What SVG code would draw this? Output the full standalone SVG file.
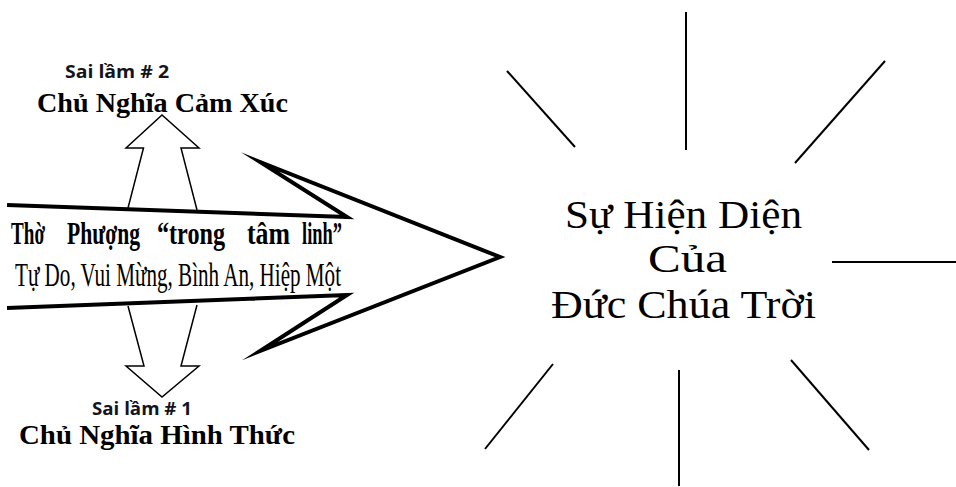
<svg xmlns="http://www.w3.org/2000/svg" width="956" height="487" viewBox="0 0 956 487">
<style>
.thick{fill:none;stroke:#000;stroke-width:4;stroke-linejoin:miter;stroke-miterlimit:30}
.thin{fill:none;stroke:#000;stroke-width:1.5;stroke-linejoin:miter;stroke-miterlimit:10}
.ray{stroke:#000;stroke-width:2;fill:none}
.sai{font-family:"Open Sans","Liberation Sans",sans-serif;font-weight:bold;font-size:17px;fill:#141420}
.head{font-family:"Liberation Serif",serif;font-weight:bold;font-size:28px;fill:#000}
.inb{font-family:"Liberation Serif",serif;font-weight:bold;font-size:32px;fill:#000}
.inr{font-family:"Liberation Serif",serif;font-size:33px;fill:#000}
.big{font-family:"Liberation Serif",serif;font-size:41px;fill:#000}
</style>
<rect width="956" height="487" fill="#fff"/>
<g id="connectors">
<path class="thick" d="M7,205 L347,217 L260,162 L500,257 L260,351 L347,295 L7,308"/>
<path class="thin" d="M128,208 L143.5,148 L126,148 L162,115 L199,148 L181,148 L197,210"/>
<path class="thin" d="M128,306 L144,366 L126,366 L162,397 L199,366 L181,366 L197,305"/>
</g>
<g id="arrow-text">
<text class="inb" x="11" y="244" textLength="34" lengthAdjust="spacingAndGlyphs">Thờ</text>
<text class="inb" x="67" y="244" textLength="73" lengthAdjust="spacingAndGlyphs">Phượng</text>
<text class="inb" x="157" y="244" textLength="68" lengthAdjust="spacingAndGlyphs">“trong</text>
<text class="inb" x="247" y="244" textLength="43" lengthAdjust="spacingAndGlyphs">tâm</text>
<text class="inb" x="302" y="244" textLength="40" lengthAdjust="spacingAndGlyphs">linh”</text>
<text class="inr" x="15" y="286" textLength="326" lengthAdjust="spacingAndGlyphs">Tự Do, Vui Mừng, Bình An, Hiệp Một</text>
</g>
<g id="error2">
<text class="sai" x="65" y="78" textLength="104" lengthAdjust="spacingAndGlyphs">Sai lầm # 2</text>
<text class="head" x="37" y="112" textLength="251" lengthAdjust="spacingAndGlyphs">Chủ Nghĩa Cảm Xúc</text>
</g>
<g id="error1">
<text class="sai" x="92" y="415" textLength="100" lengthAdjust="spacingAndGlyphs">Sai lầm # 1</text>
<text class="head" x="19" y="444" textLength="276" lengthAdjust="spacingAndGlyphs">Chủ Nghĩa Hình Thức</text>
</g>
<g id="presence">
<line class="ray" x1="686" y1="12" x2="686" y2="150"/>
<line class="ray" x1="507" y1="71" x2="575" y2="147"/>
<line class="ray" x1="885" y1="61" x2="795" y2="163"/>
<line class="ray" x1="832" y1="262" x2="956" y2="262"/>
<line class="ray" x1="553" y1="364" x2="485" y2="449"/>
<line class="ray" x1="679" y1="370" x2="679" y2="486"/>
<line class="ray" x1="791" y1="360" x2="869" y2="450"/>
<text class="big" x="565" y="228" textLength="237" lengthAdjust="spacingAndGlyphs">Sự Hiện Diện</text>
<text class="big" x="648" y="272" textLength="79" lengthAdjust="spacingAndGlyphs">Của</text>
<text class="big" x="551" y="318" textLength="265" lengthAdjust="spacingAndGlyphs">Đức Chúa Trời</text>
</g>
</svg>
